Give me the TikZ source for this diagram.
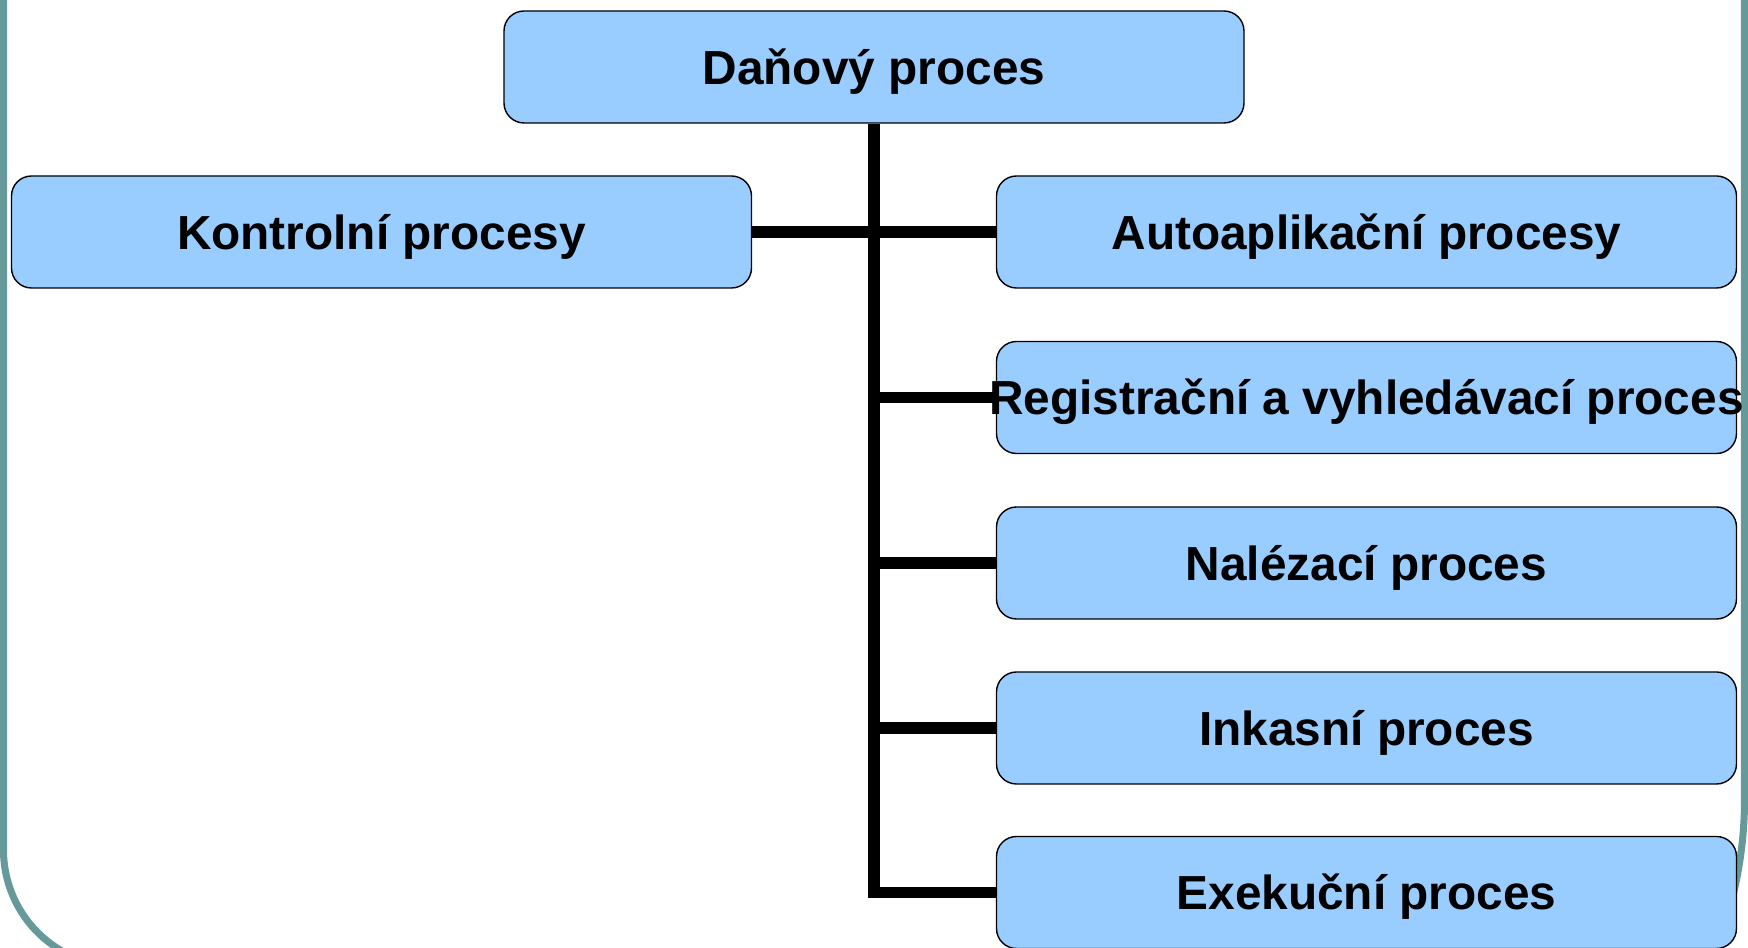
\documentclass[tikz,border=0pt]{standalone}
\usepackage{fontspec}
\setmainfont{Liberation Sans}
\usetikzlibrary{backgrounds}
\definecolor{procblue}{HTML}{99CCFF}
\definecolor{framegreen}{HTML}{669999}

\begin{document}
\begin{tikzpicture}
	%
	% `process' is used for every box.
	% `branch' is used for the black tree lines.
	% `frame' is used for the slide border.
	\tikzstyle{process} = [draw,fill=procblue,rounded corners=2mm,minimum width=7.4cm,minimum height=1.12cm,inner sep=0pt,text height=9.7pt,text depth=0pt,font=\fontsize{13.6}{16}\selectfont\bfseries]
	\tikzstyle{branch} = [line width=3.3pt]
	\tikzstyle{frame} = [draw=framegreen,line width=2pt]
	%
	\useasboundingbox (0,0) rectangle (17.48,-9.48);
	\clip (0,0) rectangle (17.48,-9.48);
	%
	% Root
	\node[process] (root) at (8.74,-0.67) {Daňový proces};
	%
	% Left
	\node[process] (kontrol) at (3.815,-2.32) {Kontrolní procesy};
	%
	% Right column
	\node[process] (auto) at (13.665,-2.32) {Autoaplikační procesy};
	\node[process] (regist) at (13.665,-3.975) {\makebox[0pt]{Registrační a vyhledávací proces}};
	\node[process] (nalez) at (13.665,-5.63) {Nalézací proces};
	\node[process] (inkas) at (13.665,-7.28) {Inkasní proces};
	\node[process] (exek) at (13.665,-8.925) {Exekuční proces};
	%
	% Lines and frame
	\begin{pgfonlayer}{background}
		\draw[frame] (0.035,0.2) -- (0.035,-8.5) arc[start angle=180,end angle=240,radius=1.165];
		\draw[frame] (17.445,0.2) -- (17.445,-8.0) arc[start angle=0,end angle=-30,radius=4];
		\draw[branch] (root.south) |- (exek.west);
		\draw[branch] (kontrol.east) -- (auto.west);
		\draw[branch] (root.south |- regist.west) -- (regist.west);
		\draw[branch] (root.south |- nalez.west) -- (nalez.west);
		\draw[branch] (root.south |- inkas.west) -- (inkas.west);
	\end{pgfonlayer}
	%
\end{tikzpicture}
\end{document}
